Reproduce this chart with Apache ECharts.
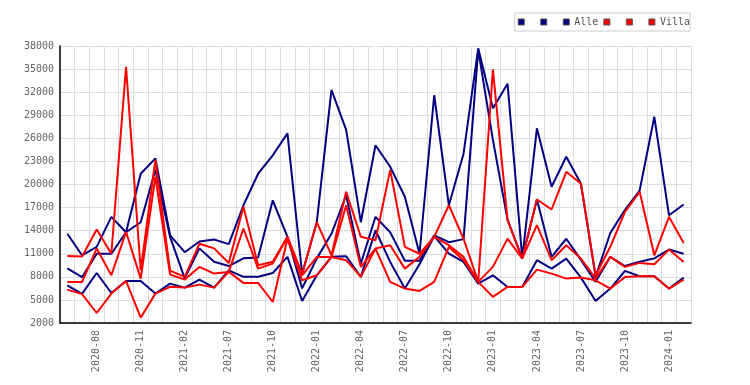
<!DOCTYPE html>
<html>
<head>
<meta charset="utf-8">
<script src="https://cdn.jsdelivr.net/npm/echarts@6/dist/echarts.min.js"></script>
<style>html,body{margin:0;padding:0;background:#fff}#c{width:750px;height:385px}</style>
</head>
<body>
<div id="c"></div>
<script>
var categories = ['2020-06','2020-07','2020-08','2020-09','2020-10','2020-11','2020-12','2021-01','2021-02','2021-03','2021-04',
  '2021-07','2021-08','2021-09','2021-10','2021-11','2021-12','2022-01','2022-02','2022-03','2022-04','2022-05','2022-06',
  '2022-07','2022-08','2022-09','2022-10','2022-11','2022-12','2023-01','2023-02','2023-03','2023-04','2023-05','2023-06',
  '2023-07','2023-08','2023-09','2023-10','2023-11','2023-12','2024-01','2024-02'];

var yTicks = [2000,5000,8000,11000,14000,17000,20000,23000,26000,29000,32000,35000,38000];

var alleMax = [13600,10800,11900,15800,13800,21400,23400,13400,11200,12600,12850,12250,17300,21400,23800,26650,8400,15100,32300,27100,15100,25100,22300,18400,11000,31600,17300,24000,37700,29900,33100,10400,27300,19700,23600,20100,8000,13700,16700,19200,28800,16000,17400];
var alleLow = [6900,5780,8500,5900,7470,7470,5820,7120,6600,7640,6600,8850,8000,8000,8500,10600,4860,8200,10600,10680,8000,14060,9940,6470,9640,13280,11020,9940,7120,8200,6690,6690,10160,9070,10370,7900,4860,6470,8770,8070,8070,6470,7900];
var alleMid = [9100,7950,11000,11000,13800,15100,21900,13200,7800,11700,9950,9400,10400,10500,17950,13200,6500,10400,13600,18600,9700,15800,13800,10100,10100,13400,12500,12900,37500,25800,15400,10400,18050,10600,12950,10200,7350,10600,9400,9950,10400,11550,11000];

var villaMax = [10700,10650,14150,11000,35300,8850,23200,8800,8000,12300,11700,9800,17100,9500,9950,13200,8400,15100,10800,19050,13200,12750,21900,11900,11000,13200,17300,12950,7340,34950,15350,10400,18050,16750,21650,20100,8200,11900,16450,19050,10800,15800,12400];
var villaLow = [6340,5750,3300,5820,7470,2700,5820,6700,6600,6990,6600,8640,7210,7210,4730,12970,7550,8200,10590,10160,7990,11670,7340,6470,6170,7340,11890,10160,7340,5390,6690,6690,8940,8420,7770,7900,7550,6470,7990,8070,8070,6470,7640];
var villaMid = [7340,7330,11670,8200,13840,7770,21000,8300,7640,9290,8420,8640,14280,9070,9720,13190,8200,10590,10590,17310,9290,11670,12110,9070,10590,13190,12110,10590,7340,9290,12970,10370,14710,10160,12110,10370,7770,10590,9290,9810,9640,11540,9940];

var seriesDefs = [
  {name: 'Alle max', label: ' ', color: '#000080', data: alleMax},
  {name: 'Alle min', label: ' ', color: '#000080', data: alleLow},
  {name: 'Alle', label: 'Alle', color: '#000080', data: alleMid},
  {name: 'Villa max', label: ' ', color: '#ff0000', data: villaMax},
  {name: 'Villa min', label: ' ', color: '#ff0000', data: villaLow},
  {name: 'Villa', label: 'Villa', color: '#ff0000', data: villaMid}
];
var labelMap = {};
seriesDefs.forEach(function(s){ labelMap[s.name] = s.label; });

var font = 'DejaVu Sans Mono';
var chart = echarts.init(document.getElementById('c'), null, {renderer: 'canvas'});
chart.setOption({
  animation: false,
  backgroundColor: '#ffffff',
  grid: {left: 60, right: 59, top: 46, bottom: 62, containLabel: false},
  legend: {
    right: 60, top: 13,
    orient: 'horizontal',
    padding: [4, 0, 4, 3],
    itemGap: 5,
    itemWidth: 6, itemHeight: 6,
    icon: 'rect',
    borderColor: '#cccccc', borderWidth: 1,
    itemStyle: {borderColor: '#555555', borderWidth: 1},
    textStyle: {fontFamily: font, fontSize: 10, color: '#555555'},
    formatter: function(n){ return labelMap[n]; },
    data: seriesDefs.map(function(s){ return s.name; })
  },
  xAxis: {
    type: 'category',
    data: categories,
    boundaryGap: true,
    axisLine: {lineStyle: {color: '#000000', width: 1.5}},
    axisTick: {show: false},
    axisLabel: {
      rotate: 90, margin: 7,
      fontFamily: font, fontSize: 10, color: '#666666',
      interval: function(i){ return i % 3 === 2; }
    },
    splitLine: {show: true, interval: 0, lineStyle: {color: '#dddddd', width: 1}}
  },
  yAxis: {
    type: 'value',
    min: 2000, max: 38000,
    axisLine: {show: true, lineStyle: {color: '#000000', width: 1.5}},
    axisTick: {show: false, customValues: yTicks},
    axisLabel: {customValues: yTicks, margin: 6, fontFamily: font, fontSize: 10, color: '#666666',
      formatter: function(v){ return String(v); }},
    splitLine: {show: true, lineStyle: {color: '#dddddd', width: 1}}
  },
  series: seriesDefs.map(function(s){
    return {
      name: s.name, type: 'line', data: s.data,
      showSymbol: false, symbol: 'none',
      color: s.color,
      lineStyle: {color: s.color, width: 2},
      itemStyle: {color: s.color}
    };
  })
});
</script>
</body>
</html>
